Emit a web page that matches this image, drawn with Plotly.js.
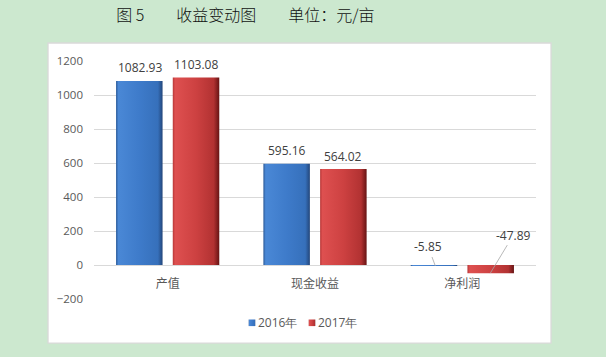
<!DOCTYPE html>
<html>
<head>
<meta charset="utf-8">
<script src="https://cdn.plot.ly/plotly-3.0.1.min.js"></script>
<style>
  html, body { margin: 0; padding: 0; background: #cce8cf; }
  #chart { width: 606px; height: 357px; }
</style>
</head>
<body>
<div id="chart"></div>
<script>
// ---- data ----
const categories = ['产值', '现金收益', '净利润'];
const seriesNames = ['2016年', '2017年'];
const values2016 = [1082.93, 595.16, -5.85];
const values2017 = [1103.08, 564.02, -47.89];
const yTickVals = [-200, 0, 200, 400, 600, 800, 1000, 1200];
const titleText = '图 5　　收益变动图　　单位：元/亩';

// ---- style ----
const numFont = 'Open Sans, Liberation Sans, sans-serif';
const cjkFont = 'Noto Sans CJK SC, sans-serif';
const grey = '#595959';
const labelColor = '#404040';
const barOffsetPx = 28;

const traces = [
  { type: 'bar', name: seriesNames[0], x: categories, y: values2016,
    marker: { color: '#3d7bca' }, hoverinfo: 'skip' },
  { type: 'bar', name: seriesNames[1], x: categories, y: values2017,
    marker: { color: '#cc4040' }, hoverinfo: 'skip' }
];

const annotations = [];
function fmt(v) { return v.toFixed(2); }
[values2016, values2017].forEach((vals, si) => {
  const shift = si === 0 ? -barOffsetPx : barOffsetPx;
  vals.forEach((v, i) => {
    if (v >= 0) {
      annotations.push({
        x: categories[i], y: v, xref: 'x', yref: 'y',
        text: fmt(v), showarrow: false, yanchor: 'bottom', yshift: 2.5, xshift: shift,
        font: { family: numFont, size: 12, color: labelColor }
      });
    }
  });
});
// leader-line labels for the negative values
annotations.push({
  x: categories[2], y: values2016[2], xref: 'x', yref: 'y', xshift: -barOffsetPx + 1,
  text: fmt(values2016[2]), showarrow: true, arrowhead: 0, arrowwidth: 0.8,
  arrowcolor: '#a6a6a6', ax: -7, ay: -19, standoff: 0,
  font: { family: numFont, size: 12, color: labelColor }
});
annotations.push({
  x: categories[2], y: values2017[2], xref: 'x', yref: 'y', xshift: barOffsetPx,
  text: fmt(values2017[2]), showarrow: true, arrowhead: 0, arrowwidth: 0.8,
  arrowcolor: '#a6a6a6', ax: 23, ay: -38, standoff: 0,
  font: { family: numFont, size: 12, color: labelColor }
});

const layout = {
  width: 606, height: 357, autosize: false,
  margin: { l: 94, r: 70, t: 61, b: 58, pad: 0 },
  paper_bgcolor: '#cce8cf',
  plot_bgcolor: 'rgba(0,0,0,0)',
  title: {
    text: titleText, x: 0.405, xref: 'container', xanchor: 'center',
    y: 0.958, yref: 'container', yanchor: 'middle',
    font: { family: cjkFont, size: 16, color: '#111111', weight: 300 }
  },
  barmode: 'group', bargap: 0.23, bargroupgap: 0.18,
  showlegend: true,
  legend: {
    orientation: 'h', x: 0.2805, xanchor: 'left', y: -0.10, yanchor: 'middle',
    font: { family: numFont, size: 12, color: grey }, itemwidth: 30,
    entrywidth: 15, entrywidthmode: 'pixels',
    bgcolor: 'rgba(0,0,0,0)', traceorder: 'normal'
  },
  xaxis: {
    type: 'category', range: [-0.5, 2.5], anchor: 'free', position: 0.1387,
    showgrid: false, showline: false, zeroline: false, ticks: '',
    tickfont: { family: cjkFont, size: 12, color: grey }, ticklabelstandoff: 9,
    fixedrange: true
  },
  yaxis: {
    range: [-200, 1200], tickmode: 'array', tickvals: yTickVals,
    showgrid: true, gridcolor: '#d9d9d9', gridwidth: 1, zeroline: false,
    showline: false, ticks: '', ticklabelstandoff: 10,
    tickfont: { family: numFont, size: 11.5, color: grey },
    fixedrange: true
  },
  shapes: [{
    type: 'rect', xref: 'paper', yref: 'paper', layer: 'below',
    x0: -0.104, x1: 1.034, y0: -0.185, y1: 1.0756,
    fillcolor: '#ffffff', line: { color: '#d9d9d9', width: 1.3 }
  }],
  annotations: annotations
};

Plotly.newPlot('chart', traces, layout, { displayModeBar: false, staticPlot: true }).then(gd => {
  // add cylinder-like horizontal gradients to bars
  const svgNS = 'http://www.w3.org/2000/svg';
  const svg = gd.querySelector('svg.main-svg');
  let defs = svg.querySelector('defs');
  if (!defs) { defs = document.createElementNS(svgNS, 'defs'); svg.insertBefore(defs, svg.firstChild); }
  function addGrad(id, stops) {
    const g = document.createElementNS(svgNS, 'linearGradient');
    g.setAttribute('id', id);
    g.setAttribute('x1', '0'); g.setAttribute('y1', '0');
    g.setAttribute('x2', '1'); g.setAttribute('y2', '0');
    stops.forEach(([o, c]) => {
      const s = document.createElementNS(svgNS, 'stop');
      s.setAttribute('offset', o); s.setAttribute('stop-color', c);
      g.appendChild(s);
    });
    defs.appendChild(g);
  }
  addGrad('gradBlue', [['0', '#2b5a98'], ['0.05', '#4a88d6'], ['0.5', '#3e7bca'], ['0.9', '#3670bb'], ['1', '#23467a']]);
  addGrad('gradRed', [['0', '#b73737'], ['0.05', '#de5050'], ['0.5', '#cd4141'], ['0.88', '#b23232'], ['1', '#661414']]);
  const barTraces = gd.querySelectorAll('.barlayer .trace');
  barTraces.forEach((t, i) => {
    t.querySelectorAll('path').forEach(p => { p.style.fill = i === 0 ? 'url(#gradBlue)' : 'url(#gradRed)'; });
  });
  // compact legend icons placed right before the text; let text overflow the tight legend box
  gd.querySelectorAll('.legend .scrollbox, .legend').forEach(el => el.removeAttribute('clip-path'));
  const legendPts = gd.querySelectorAll('.legend .traces');
  legendPts.forEach((t, i) => {
    t.querySelectorAll('.legendpoints path').forEach(p => {
      p.style.fill = i === 0 ? 'url(#gradBlue)' : 'url(#gradRed)';
      p.setAttribute('transform', 'translate(34,0) scale(0.55)');
    });
  });
});
</script>
</body>
</html>
